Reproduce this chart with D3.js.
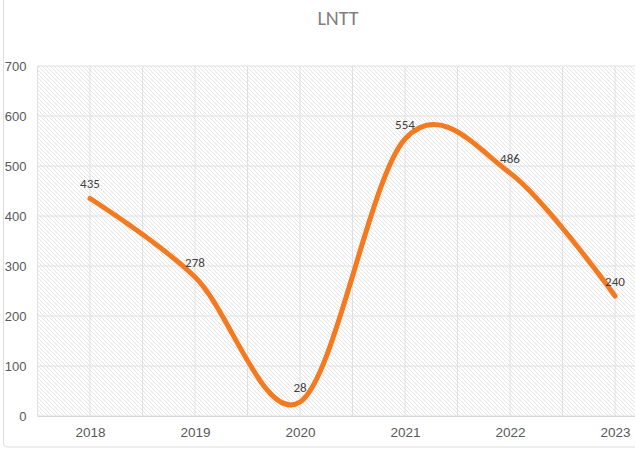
<!DOCTYPE html>
<html><head><meta charset="utf-8">
<script src="https://cdn.jsdelivr.net/npm/d3@7"></script>
<style>
html,body{margin:0;padding:0;background:#fff;overflow:hidden;}
svg{display:block;font-family:Carlito, Calibri, Lato, "Open Sans", sans-serif;}
</style></head>
<body>
<svg id="c" width="635" height="457"></svg>
<script>
const title = "LNTT";
const years = ["2018","2019","2020","2021","2022","2023"];
const values = [435, 278, 28, 554, 486, 240];
const yTicks = [0,100,200,300,400,500,600,700];

(function(){
const svg = d3.select("#c");
const pLeft = 37.5, pRight = 667.5, pTop = 66, pBottom = 416;

// chart border
svg.append("rect").attr("x",3.5).attr("y",-5).attr("width",700).attr("height",452)
  .attr("rx",4).attr("fill","#fff").attr("stroke","#dedede");

const defs = svg.append("defs");
const pat = defs.append("pattern").attr("id","hatch").attr("patternUnits","userSpaceOnUse")
  .attr("width",4).attr("height",4);
pat.append("path").attr("d","M-1,-1 L5,5 M-1,3 L1,5 M3,-1 L5,1")
  .attr("stroke","#dedede").attr("stroke-width",0.8);

const x = d3.scaleBand().domain(years).range([pLeft,pRight]).padding(0);
const y = d3.scaleLinear().domain([0,700]).range([pBottom,pTop]);
const cx = d => x(d) + x.bandwidth()/2;

svg.append("rect").attr("x",pLeft).attr("y",pTop).attr("width",pRight-pLeft).attr("height",pBottom-pTop)
  .attr("fill","url(#hatch)");

// gridlines
const g = svg.append("g");
g.selectAll("line.h").data(yTicks).join("line")
  .attr("x1",pLeft).attr("x2",pRight).attr("y1",d=>y(d)).attr("y2",d=>y(d))
  .attr("stroke","#e0e0e0").attr("stroke-width",1);
const vx = [];
years.forEach(d=>{vx.push(x(d)); vx.push(cx(d));});
vx.push(pRight);
g.selectAll("line.v").data(vx).join("line")
  .attr("x1",d=>d).attr("x2",d=>d).attr("y1",pTop).attr("y2",pBottom)
  .attr("stroke","#e0e0e0").attr("stroke-width",1);
svg.append("line").attr("x1",pLeft).attr("x2",pRight).attr("y1",pBottom+0.5).attr("y2",pBottom+0.5)
  .attr("stroke","#d6d6d6");

// axes
const yAxis = svg.append("g").attr("transform",`translate(${pLeft-11},0)`)
  .call(d3.axisLeft(y).tickValues(yTicks).tickSize(0).tickPadding(0));
yAxis.select(".domain").remove();
yAxis.selectAll("text").attr("fill","#595959").style("font-size","13px");

const xAxis = svg.append("g").attr("transform",`translate(0,${pBottom+11})`)
  .call(d3.axisBottom(d3.scalePoint().domain(years).range([cx(years[0]),cx(years[5])])).tickSize(0).tickPadding(0));
xAxis.select(".domain").remove();
xAxis.selectAll("text").attr("fill","#595959").style("font-size","13.5px");

// title
svg.append("text").attr("x",338).attr("y",25).attr("text-anchor","middle")
  .attr("fill","#808080").style("font-size","20px").text(title);

// line
const line = d3.line().x((d,i)=>cx(years[i])).y(d=>y(d)).curve(d3.curveCardinal.tension(0));
svg.append("path").datum(values).attr("d",line).attr("fill","none")
  .attr("stroke","#F47A20").attr("stroke-width",5).attr("stroke-linecap","round").attr("stroke-linejoin","round");

// labels
svg.selectAll("text.lbl").data(values).join("text").attr("class","lbl")
  .attr("x",(d,i)=>cx(years[i])).attr("y",d=>y(d)-10.5).attr("text-anchor","middle")
  .attr("fill","#404040").style("font-size","13px").text(d=>d);
})();
</script>
</body></html>
